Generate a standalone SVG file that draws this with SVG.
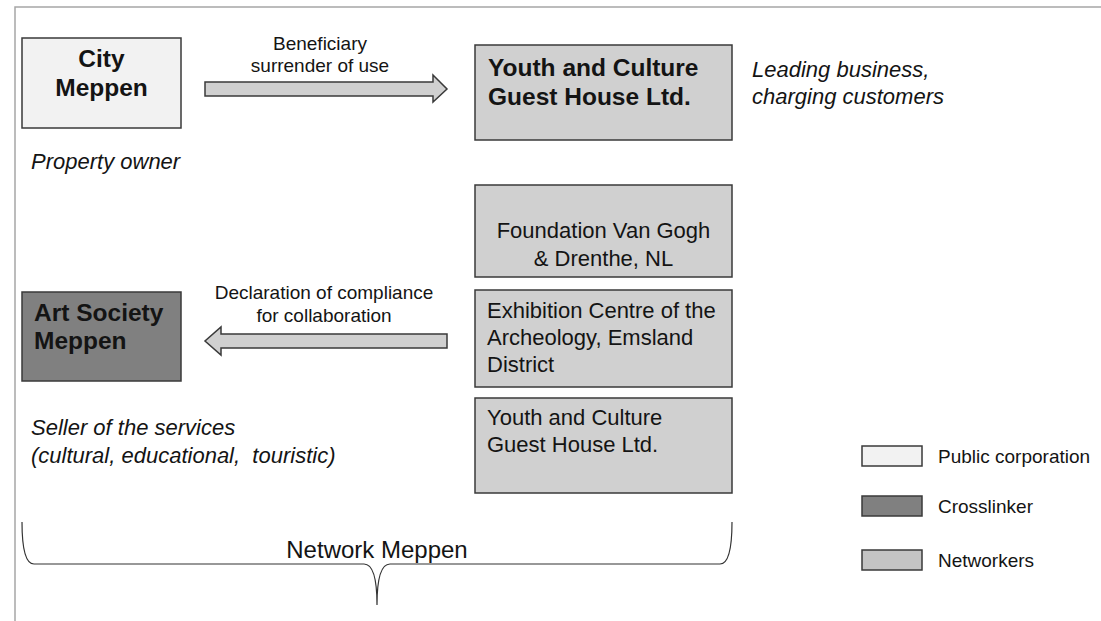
<svg xmlns="http://www.w3.org/2000/svg" width="1101" height="621" viewBox="0 0 1101 621">
<defs>
<style>
.box{stroke:#3a3a3a;stroke-width:1.5}
.pub{fill:#f2f2f2}
.cross{fill:#808080}
.net{fill:#d0d0d0}
.leg{fill:#c4c4c4}
text{font-family:"Liberation Sans",Arial,sans-serif;fill:#141414}
.b{font-weight:bold;font-size:24.5px}
.r{font-size:22px}
.i{font-style:italic;font-size:22px}
.lbl{font-size:19px;text-anchor:middle}
.lg{font-size:19px}
.arrow{fill:#d0d0d0;stroke:#3a3a3a;stroke-width:1.5}
</style>
</defs>
<rect width="1101" height="621" fill="#fff"/>
<path d="M15,621 L15,7 L1101,7" fill="none" stroke="#a6a6a6" stroke-width="1.5"/>

<g id="city-meppen">
<rect class="box pub" x="22" y="38" width="159" height="90"/>
<text class="b" x="101.5" y="67" text-anchor="middle">City</text>
<text class="b" x="101.5" y="96" text-anchor="middle">Meppen</text>
</g>
<text class="i" x="31" y="169">Property owner</text>

<g id="youth-culture-lead">
<rect class="box net" x="475" y="45" width="257" height="95"/>
<text class="b" x="488" y="76">Youth and Culture</text>
<text class="b" x="488" y="105">Guest House Ltd.</text>
</g>
<text class="i" x="752" y="77">Leading business,</text>
<text class="i" x="752" y="104">charging customers</text>

<g id="foundation-van-gogh">
<rect class="box net" x="475" y="185" width="257" height="92"/>
<text class="r" x="603.5" y="238" text-anchor="middle">Foundation Van Gogh</text>
<text class="r" x="603.5" y="266" text-anchor="middle">&amp; Drenthe, NL</text>
</g>

<g id="exhibition-centre">
<rect class="box net" x="475" y="290" width="257" height="97"/>
<text class="r" x="487" y="318">Exhibition Centre of the</text>
<text class="r" x="487" y="345">Archeology, Emsland</text>
<text class="r" x="487" y="372">District</text>
</g>

<g id="youth-culture-net">
<rect class="box net" x="475" y="398" width="257" height="95"/>
<text class="r" x="487" y="425">Youth and Culture</text>
<text class="r" x="487" y="452">Guest House Ltd.</text>
</g>

<g id="art-society-meppen">
<rect class="box cross" x="22" y="292" width="159" height="89"/>
<text class="b" x="34" y="321">Art Society</text>
<text class="b" x="34" y="349">Meppen</text>
</g>
<text class="i" x="31" y="435">Seller of the services</text>
<text class="i" x="31" y="463" xml:space="preserve">(cultural, educational,  touristic)</text>

<g id="connectors">
<polygon class="arrow" points="205,82 433,82 433,75 447,89 433,102 433,96 205,96"/>
<text class="lbl" x="320" y="50">Beneficiary</text>
<text class="lbl" x="320" y="72">surrender of use</text>
<polygon class="arrow" points="447,334 221,334 221,327 205,341 221,355 221,348 447,348"/>
<text class="lbl" x="324" y="299">Declaration of compliance</text>
<text class="lbl" x="324" y="322">for collaboration</text>
</g>

<g id="network-brace">
<path d="M22,522 Q22,564 34,564 L364,564 Q377,564 377,605 Q377,564 390,564 L720,564 Q732,564 732,522" fill="none" stroke="#333" stroke-width="1.2"/>
<text x="377" y="558" text-anchor="middle" font-size="24px">Network Meppen</text>
</g>

<g id="legend">
<rect class="box pub" x="862" y="446" width="60" height="20"/>
<text class="lg" x="938" y="463">Public corporation</text>
<rect class="box cross" x="862" y="496" width="60" height="20"/>
<text class="lg" x="938" y="513">Crosslinker</text>
<rect class="box leg" x="862" y="550" width="60" height="20"/>
<text class="lg" x="938" y="567">Networkers</text>
</g>
</svg>
